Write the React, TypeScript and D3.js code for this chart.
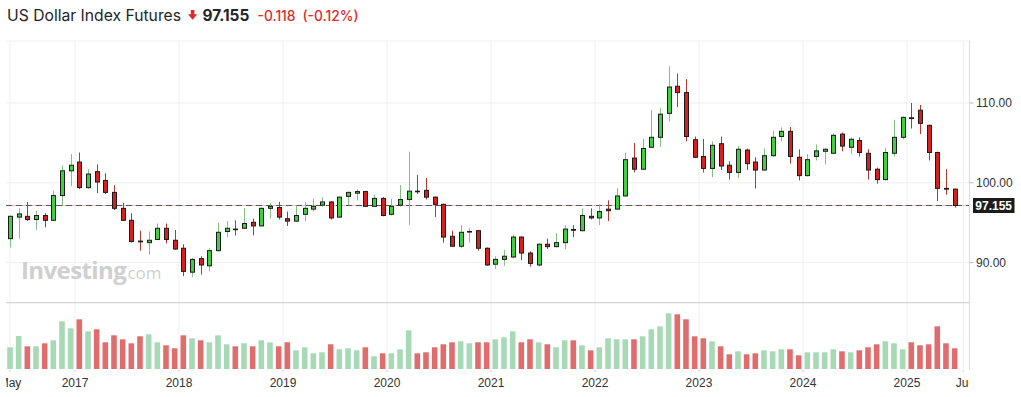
import React from "react";
import * as d3 from "d3";

// Monthly candles, May 2016 .. Jun 2025
const openP = [
  93.0, 95.7, 95.8, 95.4, 95.9, 95.3, 98.4, 101.5, 102.6, 99.4, 101.4, 100.3,
  98.8, 96.8, 95.3, 92.7, 92.5, 92.9, 94.3, 92.8, 91.8, 88.8, 90.5, 89.6,
  91.5, 93.9, 94.2, 94.3, 95.05, 94.6, 96.8, 96.9, 95.5, 95.2, 96.05, 96.7,
  97.2, 97.6, 95.7, 98.3, 98.7, 98.9, 97.05, 98.05, 96.05, 97.2, 97.9, 98.95,
  99.05, 98.2, 97.3, 93.3, 92.05, 93.85, 94.0, 91.8, 89.8, 90.4, 90.7, 93.2,
  91.2, 89.7, 92.3, 92.0, 92.5, 94.15, 94.0, 95.8, 95.6, 96.7, 96.7, 98.35,
  103.1, 101.7, 104.45, 105.7, 108.7, 112.1, 111.3, 105.4, 103.3, 101.8, 104.9, 102.2,
  101.3, 104.1, 102.6, 101.6, 103.4, 105.8, 106.45, 103.2, 100.9, 103.3, 103.95, 103.7,
  106.1, 104.45, 105.3, 103.7, 101.7, 100.4, 103.7, 105.7, 108.15, 109.1, 107.2, 103.8,
  99.3, 99.2,
];
const highP = [
  95.9, 96.8, 97.6, 96.5, 96.2, 99.0, 102.2, 103.6, 103.8, 101.7, 102.3, 101.2,
  99.7, 97.5, 96.2, 94.0, 93.9, 94.9, 94.9, 94.1, 92.3, 90.6, 90.8, 91.8,
  95.0, 95.2, 95.3, 96.8, 95.5, 96.9, 97.5, 97.6, 96.4, 97.2, 97.6, 98.0,
  98.2, 97.7, 98.3, 98.9, 99.2, 99.0, 98.5, 98.2, 98.0, 99.7, 103.9, 101.0,
  100.6, 98.3, 97.4, 94.0, 94.7, 94.3, 94.1, 91.9, 90.8, 91.6, 93.5, 93.3,
  91.4, 92.4, 93.0, 93.7, 94.7, 94.7, 96.8, 96.8, 97.3, 97.8, 99.3, 103.8,
  105.0, 105.5, 109.1, 109.4, 114.6, 113.7, 113.0, 105.8, 105.5, 105.2, 105.8, 102.7,
  104.6, 104.3, 103.2, 104.3, 106.5, 106.95, 107.0, 104.2, 103.6, 104.8, 104.4, 106.2,
  106.3, 105.7, 105.7, 104.2, 101.9, 104.4, 107.9, 108.3, 110.0, 109.75, 107.3, 103.9,
  101.7, 99.3,
];
const lowP = [
  91.9, 93.0, 95.2, 94.1, 94.4, 95.2, 97.1, 99.6, 99.2, 99.2, 98.7, 98.6,
  96.6, 95.2, 92.5, 91.5, 91.0, 92.8, 92.4, 91.6, 88.3, 88.2, 88.5, 88.9,
  91.4, 93.2, 93.4, 94.2, 93.4, 94.5, 95.5, 95.4, 94.6, 95.1, 95.2, 96.4,
  97.0, 95.4, 95.6, 97.2, 97.8, 97.0, 97.0, 95.8, 95.9, 97.0, 94.7, 98.6,
  97.9, 95.7, 92.5, 92.0, 91.8, 92.5, 91.5, 89.6, 89.2, 89.6, 90.6, 90.3,
  89.5, 89.5, 91.7, 91.9, 91.7, 93.2, 93.9, 95.4, 94.7, 95.2, 96.6, 98.3,
  101.3, 101.6, 104.4, 104.5, 107.7, 109.5, 105.2, 103.1, 101.3, 100.7, 101.6, 100.4,
  100.6, 101.6, 99.3, 101.5, 103.2, 105.2, 102.4, 100.3, 100.8, 102.8, 102.3, 103.6,
  103.95, 103.6, 103.3, 100.4, 99.9, 100.3, 103.3, 105.45, 106.8, 106.1, 102.8, 97.7,
  98.5, 96.9,
];
const closeP = [
  95.8, 96.1, 95.4, 95.9, 95.3, 98.4, 101.5, 102.2, 99.4, 101.1, 100.1, 98.8,
  96.8, 95.3, 92.65, 92.6, 92.8, 94.3, 92.9, 91.7, 88.9, 90.4, 89.7, 91.5,
  93.8, 94.3, 94.15, 94.9, 94.6, 96.8, 97.05, 95.7, 95.2, 95.9, 96.8, 97.05,
  97.6, 95.6, 98.2, 98.8, 98.9, 97.05, 98.05, 95.9, 97.05, 97.9, 98.95, 98.9,
  98.2, 97.3, 93.2, 92.05, 93.8, 93.9, 91.8, 89.7, 90.4, 90.8, 93.2, 91.2,
  89.9, 92.3, 92.0, 92.5, 94.2, 94.05, 95.9, 95.6, 96.4, 96.5, 98.35, 102.9,
  101.7, 104.3, 105.7, 108.6, 112.0, 111.3, 105.8, 103.2, 101.8, 104.7, 102.1, 101.3,
  104.2, 102.4, 101.6, 103.4, 105.7, 106.45, 103.3, 100.9, 102.9, 104.0, 104.2, 105.95,
  104.6, 105.45, 103.8, 101.6, 100.4, 103.8, 105.7, 108.2, 108.05, 107.45, 103.8, 99.3,
  99.2, 97.155,
];
// Volume (thousands of contracts, approx.)
const volume = [
  21.7, 33, 22.7, 22.7, 25.7, 28.7, 47.7, 40.7, 49.7, 37.7, 39.7, 26.7,
  33.7, 29.7, 25.7, 32.7, 34.7, 26.7, 23.7, 20.7, 33.7, 30.7, 28.7, 26.7,
  33.7, 24.7, 22.7, 25.7, 22.7, 28.7, 26.7, 22.7, 26.7, 18.7, 21.7, 15.7,
  16.7, 24.7, 19.7, 20.7, 18.7, 21.7, 12.7, 15.7, 15.7, 19.7, 38.7, 15.7,
  16.7, 21.7, 24.7, 26.7, 27.7, 25.7, 26.7, 26.7, 29.7, 31.7, 37.7, 26.7,
  29.7, 26.7, 24.7, 21.7, 28.7, 28.7, 23.7, 18.7, 21.7, 30.7, 29.7, 29.7,
  29.7, 32.7, 39.7, 42.7, 55.7, 54.7, 49.7, 32.7, 30.7, 27.7, 22.7, 14.7,
  17.7, 14.7, 15.7, 18.7, 17.7, 19.7, 19.7, 13.7, 16.7, 16.7, 16.7, 19.7,
  17.7, 16.7, 18.7, 21.7, 24.7, 27.7, 25.7, 19.7, 26.7, 23.7, 24.7, 42.7,
  25.7, 20.7,
];
const yTicks = [90, 100, 110];
const lastPrice = 97.155;
const change = -0.118;
const changePct = -0.12;
const title = "US Dollar Index Futures";

const months = d3.timeMonth.range(new Date(2016, 4, 1), new Date(2025, 7, 1)); // 111 slots
const xTickDefs: { label: string; pos: number }[] = (() => {
  const t: { label: string; pos: number }[] = [{ label: "May", pos: 0 }];
  months.forEach((m, i) => {
    if (m.getMonth() === 0) t.push({ label: String(m.getFullYear()), pos: i - 0.5 });
  });
  t.push({ label: "Jul", pos: months.length - 1 });
  return t;
})();

export default function App() {
  const W = 1021, H = 397;
  const left = 6, right = 969.5;
  const pTop = 41, pBottom = 302.7, vBottom = 369;

  const x = d3.scaleLinear().domain([0, 110]).range([10, 963.3]);
  const y = d3.scaleLinear().domain([84.975, 117.77]).range([pBottom, pTop]);
  const yv = d3.scaleLinear().domain([0, 66]).range([vBottom, 303]);

  const GREEN = "#3fcf3f", RED = "#d61f1f";
  const GWICK = "#86bd86", RWICK = "#b0392f";
  const VG = "#a7d9b6", VR = "#e06d6d";

  const n = closeP.length;
  const yLast = y(lastPrice);

  return (
    <svg
      width={W}
      height={H}
      style={{ position: "absolute", left: 0, top: 0, background: "#fff" }}
      fontFamily="'Liberation Sans', Arial, sans-serif"
    >
      <defs>
        <clipPath id="pane">
          <rect x={left} y={pTop} width={right - left} height={vBottom - pTop + 20} />
        </clipPath>
        <clipPath id="xaxis">
          <rect x={6} y={370} width={968.8 - 6} height={27} />
        </clipPath>
      </defs>

      {/* Title */}
      <g fontFamily="Inter, 'Noto Sans', sans-serif">
        <text x={7} y={20.5} fontSize={15.7} fill="#232526">{title}</text>
        <path d="M190.8,10 h3.6 v4.3 h2.8 l-4.6,5.4 l-4.6,-5.4 h2.8 z" fill="#dd2a2a" />
        <text x={202.5} y={20.5} fontSize={15.4} fontWeight={700} fill="#232526">{lastPrice.toFixed(3)}</text>
        <text x={257.5} y={20.5} fontSize={13.8} fontWeight={500} fill="#dd2a2a">{change.toFixed(3)}</text>
        <text x={302.5} y={20.5} fontSize={13.8} fontWeight={500} fill="#dd2a2a">({changePct.toFixed(2)}%)</text>
      </g>

      {/* grid */}
      <line x1={left} x2={right} y1={pTop} y2={pTop} stroke="#f0f0f0" />
      {yTicks.map((t) => (
        <line key={"hg" + t} x1={left} x2={right} y1={y(t)} y2={y(t)} stroke="#efefef" />
      ))}
      {xTickDefs.map((t) => (
        <line key={"vg" + t.label} x1={x(t.pos)} x2={x(t.pos)} y1={pTop} y2={vBottom} stroke="#f0f0f0" />
      ))}

      {/* watermark */}
      <g fill="#cfcfcf" fontFamily="'Open Sans', 'Liberation Sans', Arial, sans-serif">
        <text x={21} y={279} fontSize={24} fontWeight={700} letterSpacing={-0.6}>Investing</text>
        <text x={123} y={279} fontSize={17}>.com</text>
      </g>

      {/* last price line */}
      <line x1={left} x2={right} y1={yLast} y2={yLast} stroke="#f2b9b9" />
      <line x1={left} x2={right} y1={yLast} y2={yLast} stroke="#555" strokeDasharray="6,4" />

      {/* candles */}
      <g clipPath="url(#pane)">
        {d3.range(n).map((i) => {
          const up = closeP[i] >= openP[i];
          const cx = Math.round(x(i)) + 0.5;
          const top = y(Math.max(openP[i], closeP[i]));
          const bot = y(Math.min(openP[i], closeP[i]));
          return (
            <g key={"c" + i}>
              <line x1={cx} x2={cx} y1={y(highP[i])} y2={y(lowP[i])} stroke={up ? GWICK : RWICK} />
              <rect
                x={cx - 2}
                y={top}
                width={4}
                height={Math.max(0.6, bot - top)}
                fill={up ? GREEN : RED}
                stroke="#1b1b1b"
                strokeWidth={1}
              />
            </g>
          );
        })}
      </g>

      {/* volume */}
      <g>
        {d3.range(n).map((i) => {
          const up = i === 0 ? true : closeP[i] >= closeP[i - 1];
          const cx = x(i);
          return (
            <rect
              key={"v" + i}
              x={cx - 2.8}
              y={yv(volume[i])}
              width={5.6}
              height={vBottom - yv(volume[i])}
              fill={up ? VG : VR}
            />
          );
        })}
      </g>

      {/* pane separator & borders */}
      <line x1={left} x2={right} y1={302.7} y2={302.7} stroke="#c9c9c9" />
      <line x1={right} x2={right} y1={pTop} y2={vBottom + 1} stroke="#dcdcdc" />

      {/* right axis */}
      {yTicks.map((t) => (
        <g key={"yt" + t}>
          <line x1={right} x2={right + 4} y1={y(t)} y2={y(t)} stroke="#bbb" />
          <text x={976} y={y(t)} dy="0.35em" fontSize={12} fill="#333">{t.toFixed(2)}</text>
        </g>
      ))}
      <rect x={973} y={yLast - 7.5} width={41.5} height={15} fill="#1c1c1c" />
      <text x={993.7} y={yLast} dy="0.36em" textAnchor="middle" fontSize={12} fontWeight={700} fill="#fff">
        {lastPrice.toFixed(3)}
      </text>

      {/* x axis */}
      <g clipPath="url(#xaxis)">
        {xTickDefs.map((t) => (
          <g key={"xt" + t.label}>
            <line x1={x(t.pos)} x2={x(t.pos)} y1={vBottom} y2={vBottom + 3} stroke="#ccc" />
            <text x={x(t.pos)} y={386.5} textAnchor="middle" fontSize={12} fill="#333">{t.label}</text>
          </g>
        ))}
      </g>
    </svg>
  );
}
